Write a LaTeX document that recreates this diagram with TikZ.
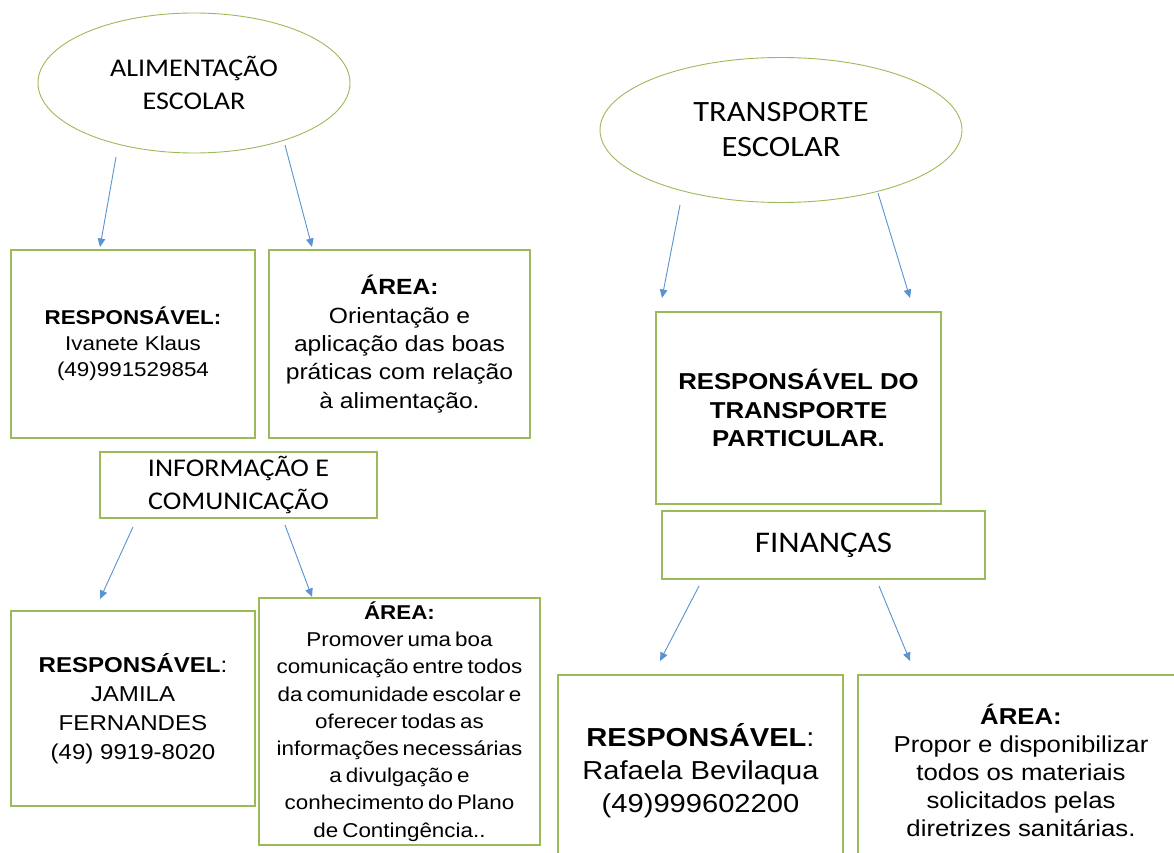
\documentclass[tikz,border=0pt]{standalone}
\usepackage{fontspec}
\setmainfont{Liberation Sans}[FakeStretch=1.12]
\newfontfamily\calibri{Carlito}[FakeStretch=1.1]
\usetikzlibrary{shapes.geometric,arrows.meta}
\definecolor{verde}{RGB}{155,187,89}
\definecolor{azul}{RGB}{91,146,208}
\newcommand{\apertado}{\spaceskip=4pt\relax}
\begin{document}
\begin{tikzpicture}[x=1pt, y=-1pt,
		elipse/.style={ellipse, draw=verde, line width=0.9pt, align=center, inner sep=0pt},
		caixa/.style={rectangle, draw=verde, line width=1.2pt, align=center, inner sep=0pt},
		seta/.style={draw=azul, line width=0.9pt, -{Triangle[width=7.5pt, length=8.5pt]}}]
		\useasboundingbox (0, 0) rectangle (1174, 853);
		\clip (0, 0) rectangle (1174, 853);

		\coordinate (alim_l) at (116, 157);
		\coordinate (alim_r) at (285, 145);
		\coordinate (resp1_n) at (100, 247);
		\coordinate (area1_n) at (312, 247);
		\coordinate (info_l) at (133, 527);
		\coordinate (info_r) at (285, 525);
		\coordinate (resp2_n) at (100, 599);
		\coordinate (area2_n) at (312, 597);
		\coordinate (transp_l) at (680, 205);
		\coordinate (transp_r) at (878, 193);
		\coordinate (part_nl) at (662, 298);
		\coordinate (part_nr) at (910, 298);
		\coordinate (fin_l) at (699, 586);
		\coordinate (fin_r) at (879, 586);
		\coordinate (resp3_n) at (660, 661);
		\coordinate (area3_n) at (910, 661);

		% alimentacao escolar
		\node[elipse, minimum width=312pt, minimum height=140pt, font=\calibri\fontsize{25.5}{33}\selectfont] (alim) at (194, 83) {ALIMENTAÇÃO\\ESCOLAR};
		\node[caixa, minimum width=244pt, minimum height=188pt, font=\fontsize{20}{26}\selectfont] (resp1) at (133, 344) {\textbf{RESPONSÁVEL:}\\Ivanete Klaus\\(49)991529854};
		\node[caixa, minimum width=261pt, minimum height=188pt, font=\fontsize{22}{28.3}\selectfont] (area1) at (399.5, 344) {\textbf{ÁREA:}\\Orientação e\\aplicação das boas\\práticas com relação\\à alimentação.};
		\draw[seta] (alim_l) -- (resp1_n);
		\draw[seta] (alim_r) -- (area1_n);

		% informacao e comunicacao
		\node[caixa, minimum width=277pt, minimum height=66pt, font=\calibri\fontsize{25.5}{33}\selectfont] (info) at (238.5, 485) {INFORMAÇÃO E\\COMUNICAÇÃO};
		\node[caixa, minimum width=244pt, minimum height=195pt, font=\fontsize{21.5}{29}\selectfont] (resp2) at (133, 708.5) {\textbf{RESPONSÁVEL}:\\JAMILA\\FERNANDES\\(49) 9919-8020};
		\node[caixa, minimum width=281pt, minimum height=247pt, font=\fontsize{20}{27.2}\selectfont\apertado] (area2) at (399.5, 721.5) {\textbf{ÁREA:}\\Promover uma boa\\comunicação entre todos\\da comunidade escolar e\\oferecer todas as\\informações necessárias\\a divulgação e\\conhecimento do Plano\\de Contingência..};
		\draw[seta] (info_l) -- (resp2_n);
		\draw[seta] (info_r) -- (area2_n);

		% transporte escolar
		\node[elipse, minimum width=362pt, minimum height=145pt, font=\calibri\fontsize{29.5}{35}\selectfont] (transp) at (781, 130) {TRANSPORTE\\ESCOLAR};
		\node[caixa, minimum width=285pt, minimum height=192pt, font=\bfseries\fontsize{23}{28.5}\selectfont] (part) at (798.5, 408) {RESPONSÁVEL DO\\TRANSPORTE\\PARTICULAR.};
		\draw[seta] (transp_l) -- (part_nl);
		\draw[seta] (transp_r) -- (part_nr);

		% financas
		\node[caixa, minimum width=323pt, minimum height=68pt, font=\calibri\fontsize{30}{33}\selectfont] (fin) at (823.5, 545) {FINANÇAS};
		\node[caixa, minimum width=285pt, minimum height=192pt, font=\fontsize{26}{33}\selectfont] (resp3) at (700.5, 771) {\textbf{RESPONSÁVEL}:\\Rafaela Bevilaqua\\(49)999602200};
		\node[caixa, minimum width=326pt, minimum height=190pt, font=\fontsize{23}{28}\selectfont] (area3) at (1021, 770) {\textbf{ÁREA:}\\Propor e disponibilizar\\todos os materiais\\solicitados pelas\\diretrizes sanitárias.};
		\draw[seta] (fin_l) -- (resp3_n);
		\draw[seta] (fin_r) -- (area3_n);
	\end{tikzpicture}
\end{document}
